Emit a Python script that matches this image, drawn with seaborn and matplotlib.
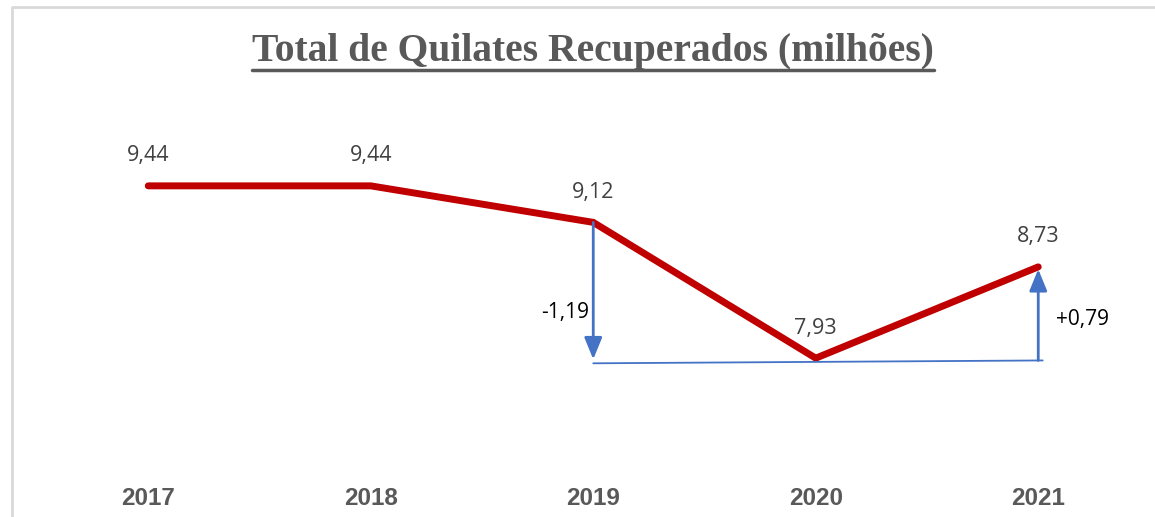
import matplotlib.pyplot as plt
import seaborn as sns
import pandas as pd
from matplotlib.lines import Line2D

sns.set_theme(style="white")
plt.rcParams['font.family'] = ['Open Sans', 'DejaVu Sans']

years = ["2017", "2018", "2019", "2020", "2021"]
quilates = [9.44, 9.44, 9.12, 7.93, 8.73]
labels = ["9,44", "9,44", "9,12", "7,93", "8,73"]
var_labels = ["-1,19", "+0,79"]

RED = "#C00000"
BLUE = "#4472C4"
GREY = "#595959"

df = pd.DataFrame({"idx": range(len(years)), "valor": quilates})

fig = plt.figure(figsize=(11.55, 5.17), dpi=100)
ax = fig.add_axes([37 / 1155, 47 / 517, 1112.5 / 1155, 380 / 517])

sns.lineplot(data=df, x="idx", y="valor", ax=ax, color=RED, linewidth=5,
             solid_capstyle="round", solid_joinstyle="miter")

ax.set_xlim(-0.5, 4.5)
ax.set_ylim(6.95, 10.28)

for i, (v, t) in enumerate(zip(quilates, labels)):
    ax.annotate(t, (i, v), xytext=(0, 14), textcoords="offset points",
                ha="center", va="bottom", fontsize=15.5, color="#404040")

# variacao 2019 -> 2020 e 2020 -> 2021
base = quilates[3] - 0.03
arrow = dict(arrowstyle="-|>,head_width=0.45,head_length=1.1",
             color=BLUE, lw=2, shrinkA=0, shrinkB=0)
ax.plot([2, 4.02], [base - 0.015, base + 0.01], color=BLUE, linewidth=1.3)
ax.annotate("", xy=(2, base + 0.02), xytext=(2, quilates[2]), arrowprops=arrow)
ax.annotate("", xy=(4, quilates[4] - 0.02), xytext=(4, base + 0.01), arrowprops=arrow)
ax.text(1.98, (quilates[2] + base) / 2 - 0.18, var_labels[0], ha="right", va="center",
        fontsize=15, color="black")
ax.text(4.08, (quilates[4] + base) / 2 - 0.05, var_labels[1], ha="left", va="center",
        fontsize=15, color="black")

ax.set_xticks(range(len(years)))
ax.set_xticklabels(years, fontsize=17.5, fontweight="bold", color=GREY,
                   family=["Liberation Sans Narrow", "Liberation Sans", "DejaVu Sans"])
ax.tick_params(axis="x", length=0, pad=12)
ax.set_yticks([])
ax.set_xlabel("")
ax.set_ylabel("")
sns.despine(ax=ax, left=True, bottom=True, top=True, right=True)

# titulo sublinhado
title = fig.text(593 / 1155, 1 - 51 / 517, "Total de Quilates Recuperados (milhões)",
                 ha="center", va="center", fontsize=28.5, fontweight="bold",
                 color=GREY, family=["Liberation Serif", "DejaVu Serif"])
fig.canvas.draw()
bb = title.get_window_extent().transformed(fig.transFigure.inverted())
fig.add_artist(Line2D([bb.x0, bb.x1], [1 - 70 / 517] * 2, color=GREY, lw=2.5,
                      transform=fig.transFigure))

# moldura cinza
fig.add_artist(Line2D([12 / 1155, 12 / 1155, 1], [0, 1 - 7 / 517, 1 - 7 / 517],
                      color="#D9D9D9", lw=2, transform=fig.transFigure))

fig.savefig("out.png", dpi=100)
